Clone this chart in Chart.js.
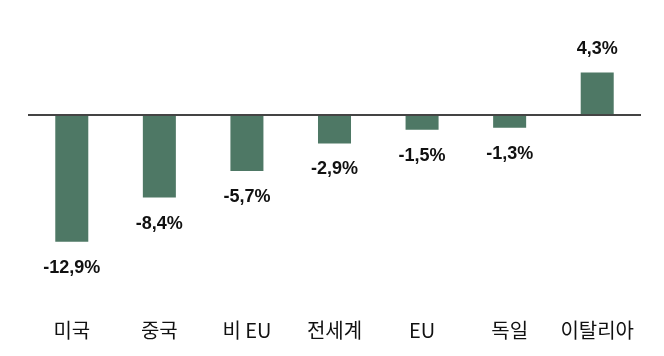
<!DOCTYPE html>
<html><head><meta charset="utf-8">
<style>html,body{margin:0;padding:0;background:#fff;}canvas{display:block;}</style>
<script src="https://cdn.jsdelivr.net/npm/chart.js@4/dist/chart.umd.min.js"></script>
</head><body>
<canvas id="c" width="664" height="356"></canvas>
<script>
const categories = ['미국', '중국', '비 EU', '전세계', 'EU', '독일', '이탈리아'];
const values = [-12.9, -8.4, -5.7, -2.9, -1.5, -1.3, 4.3];
const valueLabels = ['-12,9%', '-8,4%', '-5,7%', '-2,9%', '-1,5%', '-1,3%', '4,3%'];

const labelPlugin = {
  id: 'valueLabels',
  afterDatasetsDraw(chart) {
    const ctx = chart.ctx;
    const meta = chart.getDatasetMeta(0);
    ctx.save();
    ctx.font = 'bold 18px "Liberation Sans", Arial, sans-serif';
    ctx.fillStyle = '#111';
    ctx.textAlign = 'center';
    ctx.textBaseline = 'middle';
    meta.data.forEach((bar, i) => {
      const v = values[i];
      const y = v < 0 ? bar.y + 26 : bar.y - 24;
      ctx.fillText(valueLabels[i], bar.x, y);
    });
    ctx.restore();
  }
};

new Chart(document.getElementById('c'), {
  type: 'bar',
  data: {
    labels: categories,
    datasets: [{
      data: values,
      backgroundColor: '#4e7865',
      borderWidth: 0,
      barPercentage: 0.377,
      categoryPercentage: 1.0
    }]
  },
  options: {
    responsive: false,
    animation: false,
    layout: { padding: { left: 28, right: 23, top: 16.5, bottom: -12 } },
    plugins: { legend: { display: false }, tooltip: { enabled: false } },
    scales: {
      x: {
        grid: { display: false, drawTicks: false },
        border: { display: false },
        ticks: {
          padding: 26,
          maxRotation: 0,
          minRotation: 0,
          autoSkip: false,
          color: '#111',
          font: { family: '"Noto Sans CJK KR", sans-serif', size: 20, lineHeight: 1.2 }
        }
      },
      y: {
        min: -18, max: 10,
        ticks: { display: false, stepSize: 2 },
        border: { display: false },
        grid: {
          drawTicks: false,
          color: (ctx) => ctx.tick && ctx.tick.value === 0 ? '#444' : 'rgba(0,0,0,0)',
          lineWidth: (ctx) => ctx.tick && ctx.tick.value === 0 ? 2 : 0
        }
      }
    }
  },
  plugins: [labelPlugin]
});
</script>
</body></html>
